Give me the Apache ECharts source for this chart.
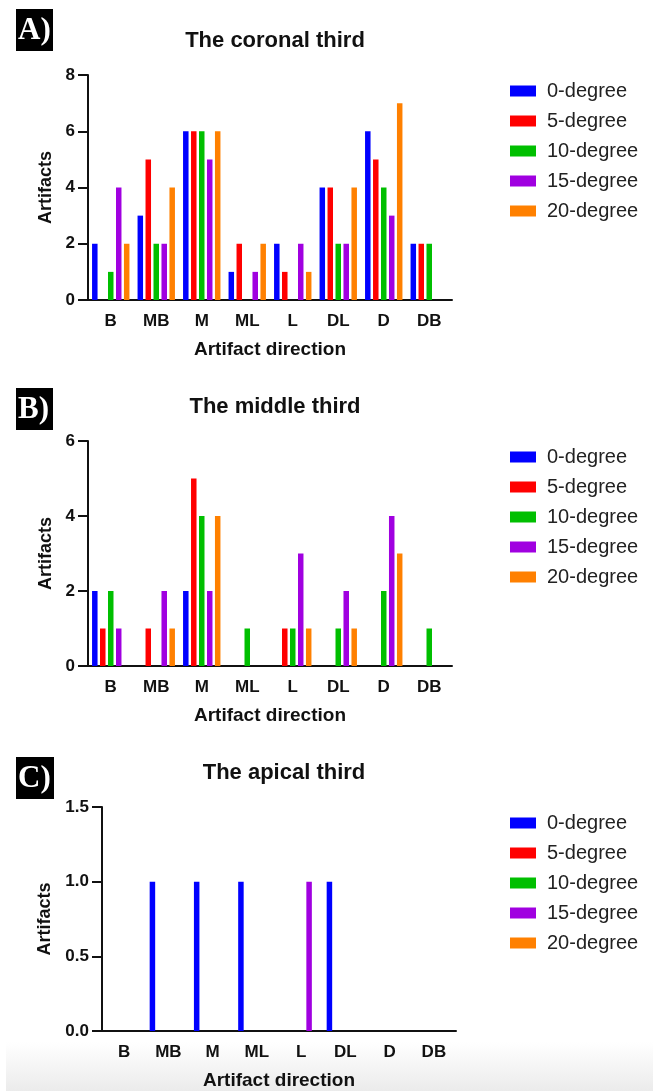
<!DOCTYPE html>
<html>
<head>
<meta charset="utf-8">
<script src="https://cdn.jsdelivr.net/npm/echarts@6/dist/echarts.min.js"></script>
<style>
  html, body { margin: 0; padding: 0; background: #fff; }
  #chart { width: 653px; height: 1091px; }
</style>
</head>
<body>
<div id="chart"></div>
<script>
"use strict";

var directions = ['B', 'MB', 'M', 'ML', 'L', 'DL', 'D', 'DB'];
var degrees = ['0-degree', '5-degree', '10-degree', '15-degree', '20-degree'];
var colors = ['#0000ff', '#ff0000', '#00bf00', '#a000e0', '#ff8000'];

// coronal third, one array per angle (B..DB)
var coronal0 = [2, 3, 6, 1, 2, 4, 6, 2];
var coronal5 = [0, 5, 6, 2, 1, 4, 5, 2];
var coronal10 = [1, 2, 6, 0, 0, 2, 4, 2];
var coronal15 = [4, 2, 5, 1, 2, 2, 3, 0];
var coronal20 = [2, 4, 6, 2, 1, 4, 7, 0];

// middle third
var middle0 = [2, 0, 2, 0, 0, 0, 0, 0];
var middle5 = [1, 1, 5, 0, 1, 0, 0, 0];
var middle10 = [2, 0, 4, 1, 1, 1, 2, 1];
var middle15 = [1, 2, 2, 0, 3, 2, 4, 0];
var middle20 = [0, 1, 4, 0, 1, 1, 3, 0];

// apical third
var apical0 = [0, 1, 1, 1, 0, 1, 0, 0];
var apical5 = [0, 0, 0, 0, 0, 0, 0, 0];
var apical10 = [0, 0, 0, 0, 0, 0, 0, 0];
var apical15 = [0, 0, 0, 0, 1, 0, 0, 0];
var apical20 = [0, 0, 0, 0, 0, 0, 0, 0];

var panelTitles = ['The coronal third', 'The middle third', 'The apical third'];
var panelLetters = ['A)', 'B)', 'C)'];
var yMax = [8, 6, 1.5];
var yStep = [2, 2, 0.5];

var panelData = [
    [coronal0, coronal5, coronal10, coronal15, coronal20],
    [middle0, middle5, middle10, middle15, middle20],
    [apical0, apical5, apical10, apical15, apical20]
];

var FONT = '"Liberation Sans", Arial, sans-serif';

// layout of the three panels
var panels = [
    { left: 88, width: 364, top: 75, height: 225, box: [16, 9, 37, 42], legendTop: 76 },
    { left: 88, width: 364, top: 441, height: 225, box: [16, 388, 37, 42], legendTop: 442 },
    { left: 102, width: 354, top: 807, height: 225, box: [16, 757, 38, 42], legendTop: 808 }
];

var grids = [], xAxes = [], yAxes = [], titles = [], legends = [], series = [], graphics = [];

// light grey shade at the bottom of the picture
graphics.push({
    type: 'rect', left: 6, top: 1042, z: -10,
    shape: { width: 647, height: 49 },
    style: {
        fill: new echarts.graphic.LinearGradient(0, 0, 0, 1, [
            { offset: 0, color: '#ffffff' },
            { offset: 1, color: '#ebebeb' }
        ])
    }
});

panels.forEach(function (p, i) {
    grids.push({ left: p.left, top: p.top, width: p.width, height: p.height });

    titles.push({
        text: panelTitles[i],
        left: p.left + p.width / 2,
        top: p.top - 50,
        textAlign: 'center',
        textStyle: { fontFamily: FONT, fontWeight: 'bold', fontSize: 22, color: '#111' }
    });

    xAxes.push({
        type: 'category',
        gridIndex: i,
        data: directions,
        name: 'Artifact direction',
        nameLocation: 'middle',
        nameGap: 40,
        nameTextStyle: { fontFamily: FONT, fontWeight: 'bold', fontSize: 19, color: '#111' },
        axisLine: { lineStyle: { color: '#111', width: 2 } },
        axisTick: { alignWithLabel: true, length: 7, lineStyle: { color: '#111', width: 2 } },
        axisLabel: { margin: 13, fontFamily: FONT, fontWeight: 'bold', fontSize: 17, color: '#111' }
    });

    yAxes.push({
        type: 'value',
        gridIndex: i,
        min: 0,
        max: yMax[i],
        interval: yStep[i],
        name: 'Artifacts',
        nameLocation: 'middle',
        nameGap: i === 2 ? 46 : 33,
        nameTextStyle: { fontFamily: FONT, fontWeight: 'bold', fontSize: 18, color: '#111' },
        splitLine: { show: false },
        axisLine: { show: true, lineStyle: { color: '#111', width: 2 } },
        axisTick: { show: true, length: 10, lineStyle: { color: '#111', width: 2 } },
        axisLabel: {
            margin: 13,
            fontFamily: FONT, fontWeight: 'bold', fontSize: 17, color: '#111',
            formatter: function (v) { return i === 2 ? v.toFixed(1) : String(v); }
        }
    });

    legends.push({
        data: degrees,
        orient: 'vertical',
        left: 505,
        top: p.legendTop,
        icon: 'rect',
        itemWidth: 26,
        itemHeight: 11,
        itemGap: 10,
        selectedMode: false,
        textStyle: { fontFamily: FONT, fontSize: 20, lineHeight: 20, color: '#222', padding: [0, 0, 0, 6] }
    });

    degrees.forEach(function (d, k) {
        series.push({
            type: 'bar',
            name: d,
            xAxisIndex: i,
            yAxisIndex: i,
            data: panelData[i][k],
            barWidth: 5.5,
            barGap: '45%',
            itemStyle: { color: colors[k] },
            emphasis: { disabled: true }
        });
    });

    // panel letter in a black box
    graphics.push({
        type: 'group', left: p.box[0], top: p.box[1],
        children: [
            { type: 'rect', shape: { width: p.box[2], height: p.box[3] }, style: { fill: '#000' } },
            {
                type: 'text', left: 2, top: 6,
                style: {
                    text: panelLetters[i], fill: '#fff',
                    font: 'bold 31px "Liberation Serif", "Times New Roman", serif'
                }
            }
        ]
    });
});

var chart = echarts.init(document.getElementById('chart'));
chart.setOption({
    animation: false,
    title: titles,
    legend: legends,
    grid: grids,
    xAxis: xAxes,
    yAxis: yAxes,
    series: series,
    graphic: graphics
});
</script>
</body>
</html>
